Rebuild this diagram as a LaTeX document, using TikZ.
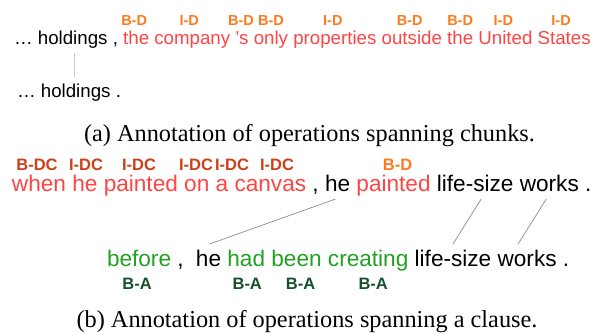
\documentclass[tikz,border=0pt]{standalone}
\usepackage{fontspec}
\setmainfont{Liberation Serif}
\newfontfamily\arialf{Liberation Sans}
\definecolor{cRed}{RGB}{255,68,68}
\definecolor{cOrange}{RGB}{255,122,30}
\definecolor{cDC}{RGB}{204,64,24}
\definecolor{cGreen}{RGB}{34,160,34}
\definecolor{cDarkGreen}{RGB}{24,80,45}
\definecolor{cLineA}{RGB}{200,200,200}
\definecolor{cLineB}{RGB}{140,140,140}
\begin{document}
\begin{tikzpicture}[x=1pt,y=-1pt,
  wA/.style={font=\arialf\fontsize{18.7}{22}\selectfont, inner sep=0pt, outer sep=0pt},
  wB/.style={font=\arialf\fontsize{22.6}{26}\selectfont, inner sep=0pt, outer sep=0pt},
  nxA/.style={wA, anchor=base west, at={([xshift=5.2pt]#1.base east)}},
  nxB/.style={wB, anchor=base west, at={([xshift=6.3pt]#1.base east)}},
  labA/.style={font=\arialf\bfseries\fontsize{14.5}{16}\selectfont, inner sep=0pt, anchor=base, text=cOrange},
  labB/.style={font=\arialf\bfseries\fontsize{16.5}{18}\selectfont, inner sep=0pt, anchor=base},
  linkA/.style={draw=cLineA, line width=0.8pt},
  linkB/.style={draw=cLineB, line width=0.7pt},
  captext/.style={font=\fontsize{24.3}{28}\selectfont, inner sep=0pt, anchor=base}]
\useasboundingbox (0,0) rectangle (597,333);

% ---- (a) chunk-level example ----
\node[wA, anchor=base west] (a1) at (14,44) {…};
\node[nxA=a1] (a2) {holdings};
\node[nxA=a2] (a3) {,};
\node[nxA=a3, text=cRed] (a4) {the};
\node[nxA=a4, text=cRed] (a5) {company};
\node[nxA=a5, text=cRed] (a6) {’s};
\node[nxA=a6, text=cRed] (a7) {only};
\node[nxA=a7, text=cRed] (a8) {properties};
\node[nxA=a8, text=cRed] (a9) {outside};
\node[nxA=a9, text=cRed] (a10) {the};
\node[nxA=a10, text=cRed] (a11) {United};
\node[nxA=a11, text=cRed] (a12) {States};

\node[labA] (ta4) at ([xshift=-2pt,yshift=19pt]a4.base) {B-D};
\node[labA] (ta5) at ([xshift=-3pt,yshift=19pt]a5.base) {I-D};
\node[labA] (ta6) at ([xshift=-1pt,yshift=19pt]a6.base) {B-D};
\node[labA] (ta7) at ([yshift=19pt]a7.base) {B-D};
\node[labA] (ta8) at ([xshift=-2pt,yshift=19pt]a8.base) {I-D};
\node[labA] (ta9) at ([xshift=-2pt,yshift=19pt]a9.base) {B-D};
\node[labA] (ta10) at ([yshift=19pt]a10.base) {B-D};
\node[labA] (ta11) at ([xshift=-2pt,yshift=19pt]a11.base) {I-D};
\node[labA] (ta12) at ([xshift=-3pt,yshift=19pt]a12.base) {I-D};

\node[wA, anchor=base west] (b1) at (17,97) {…};
\node[nxA=b1] (b2) {holdings};
\node[nxA=b2] (b3) {.};

\draw[linkA] ([xshift=1.3pt,yshift=-9pt]a2.base) -- ([xshift=-1.7pt,yshift=20pt]b2.base);

\node[captext] (capa) at (309.5,141) {(a) Annotation of operations spanning chunks.};

% ---- (b) clause-level example ----
\node[wB, anchor=base west, text=cRed] (c1) at (12,191) {when};
\node[nxB=c1, text=cRed] (c2) {he};
\node[nxB=c2, text=cRed] (c3) {painted};
\node[nxB=c3, text=cRed] (c4) {on};
\node[nxB=c4, text=cRed] (c5) {a};
\node[nxB=c5, text=cRed] (c6) {canvas};
\node[nxB=c6] (c7) {,};
\node[nxB=c7] (c8) {he};
\node[nxB=c8, text=cRed] (c9) {painted};
\node[nxB=c9] (c10) {life-size};
\node[nxB=c10] (c11) {works};
\node[nxB=c11] (c12) {.};

\node[labB, text=cDC] (tc1) at (37,170) {B-DC};
\node[labB, text=cDC] (tc2) at (86,170) {I-DC};
\node[labB, text=cDC] (tc3) at (139,170) {I-DC};
\node[labB, text=cDC] (tc4) at (196,170) {I-DC};
\node[labB, text=cDC] (tc5) at (232,170) {I-DC};
\node[labB, text=cDC] (tc6) at (277,170) {I-DC};
\node[labB, text=cOrange] (tc9) at ([xshift=4pt,yshift=21pt]c9.base) {B-D};

\node[wB, anchor=base west, text=cGreen] (d1) at (107,266) {before};
\node[nxB=d1] (d2) {,};
\node[wB, anchor=base west] (d3) at ([xshift=12.3pt]d2.base east) {he};
\node[nxB=d3, text=cGreen] (d4) {had};
\node[nxB=d4, text=cGreen] (d5) {been};
\node[nxB=d5, text=cGreen] (d6) {creating};
\node[nxB=d6] (d7) {life-size};
\node[nxB=d7] (d8) {works};
\node[nxB=d8] (d9) {.};

\node[labB, text=cDarkGreen] (td1) at ([xshift=-2pt,yshift=-23pt]d1.base) {B-A};
\node[labB, text=cDarkGreen] (td4) at ([xshift=1pt,yshift=-23pt]d4.base) {B-A};
\node[labB, text=cDarkGreen] (td5) at ([xshift=4pt,yshift=-23pt]d5.base) {B-A};
\node[labB, text=cDarkGreen] (td6) at ([xshift=5pt,yshift=-23pt]d6.base) {B-A};

\draw[linkB] ([xshift=-2pt,yshift=-8pt]c8.base) -- ([xshift=1pt,yshift=22pt]d3.base);
\draw[linkB] ([xshift=6pt,yshift=-8pt]c10.base) -- ([yshift=22pt]d7.base);
\draw[linkB] ([xshift=-3pt,yshift=-8pt]c11.base) -- ([xshift=-9pt,yshift=22pt]d8.base);

\node[captext] (capb) at (307,327) {(b) Annotation of operations spanning a clause.};
\end{tikzpicture}
\end{document}
